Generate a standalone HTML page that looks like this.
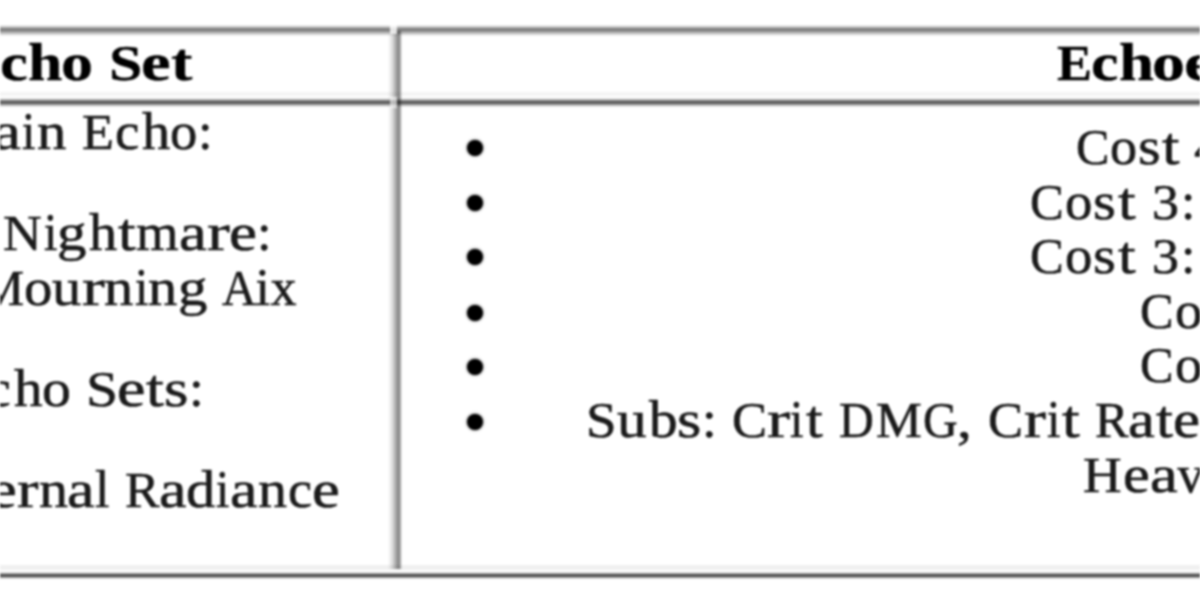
<!DOCTYPE html>
<html><head><meta charset="utf-8"><style>
html,body{margin:0;padding:0;background:#fff}
body{width:1200px;height:600px;overflow:hidden;position:relative}
#w{position:absolute;left:0;top:0;width:1200px;height:600px;overflow:hidden;filter:blur(1.0px)}
.t{position:absolute;white-space:pre;line-height:60px;font-size:52.0px;font-family:"Liberation Serif", serif;color:#1a1a1a;transform-origin:0 47px;-webkit-text-stroke:0.6px #1a1a1a}
.b{font-weight:700;color:#000;-webkit-text-stroke:0.3px #000}
.ln{position:absolute}
.dot{position:absolute;width:16.0px;height:16.0px;border-radius:50%;background:#000;box-shadow:0 0 2.5px 0.5px rgba(0,0,0,.55)}
</style></head><body><div id="w">
<div class="ln" style="left:0px;top:25px;width:1200px;height:11px;background:linear-gradient(to bottom,rgba(0,0,0,0) 0%,rgba(0,0,0,.56) 42%,rgba(0,0,0,0) 100%)"></div>
<div class="ln" style="left:0px;top:92px;width:1200px;height:4px;background:#f4f4f4"></div>
<div class="ln" style="left:0px;top:98px;width:1200px;height:8.5px;background:linear-gradient(to bottom,rgba(0,0,0,0) 0%,rgba(0,0,0,.73) 48%,rgba(0,0,0,0) 100%)"></div>
<div class="ln" style="left:0px;top:564.5px;width:1200px;height:5.5px;background:#f0f0f0"></div>
<div class="ln" style="left:0px;top:571.5px;width:1200px;height:7.5px;background:linear-gradient(to bottom,rgba(0,0,0,0) 0%,rgba(0,0,0,.8) 50%,rgba(0,0,0,0) 100%)"></div>
<div class="ln" style="left:388px;top:31px;width:14px;height:538px;background:linear-gradient(to right,rgba(0,0,0,0) 0%,rgba(0,0,0,.12) 28.6%,rgba(0,0,0,.23) 42.9%,rgba(0,0,0,.4) 64.3%,rgba(0,0,0,.47) 74.3%,rgba(0,0,0,.39) 85.7%,rgba(0,0,0,0) 100%)"></div>
<div class="ln" style="left:390px;top:23px;width:6.5px;height:11px;background:rgba(255,255,255,.8)"></div>
<div class="ln" style="left:390px;top:96.5px;width:6.5px;height:11px;background:rgba(255,255,255,.6)"></div>
<div class="t b" style="left:0.09px;top:32.80px;transform:scaleX(1.2041)">c</div>
<div class="t b" style="left:28.40px;top:32.80px;transform:scaleX(1.1892)">h</div>
<div class="t b" style="left:61.25px;top:32.80px;transform:scaleX(1.2315)">o</div>
<div class="t b" style="left:108.54px;top:32.80px;transform:scale(1.1523,0.97)">S</div>
<div class="t b" style="left:141.04px;top:32.80px;transform:scaleX(1.2840)">e</div>
<div class="t b" style="left:171.01px;top:32.80px;transform:scaleX(1.2346)">t</div>
<div class="t b" style="left:1056.99px;top:32.80px;transform:scale(1.0086,0.97)">E</div>
<div class="t b" style="left:1090.93px;top:32.80px;transform:scaleX(1.1867)">c</div>
<div class="t b" style="left:1118.79px;top:32.80px;transform:scaleX(1.2096)">h</div>
<div class="t b" style="left:1152.17px;top:32.80px;transform:scaleX(1.2669)">o</div>
<div class="t b" style="left:1184.02px;top:32.80px;transform:scaleX(1.3419)">e</div>
<div class="t" style="left:-6.76px;top:102.00px;transform:scaleX(1.2048)">a</div>
<div class="t" style="left:21.83px;top:102.00px;transform:scaleX(0.9268)">i</div>
<div class="t" style="left:36.69px;top:102.00px;transform:scaleX(1.1295)">n</div>
<div class="t" style="left:82.00px;top:102.00px;transform:scale(1.0040,0.975)">E</div>
<div class="t" style="left:115.03px;top:102.00px;transform:scaleX(1.0542)">c</div>
<div class="t" style="left:142.24px;top:102.00px;transform:scaleX(1.0843)">h</div>
<div class="t" style="left:170.26px;top:102.00px;transform:scaleX(1.0496)">o</div>
<div class="t" style="left:198.46px;top:102.00px;transform:scaleX(1.0040)">:</div>
<div class="t" style="left:3.47px;top:202.50px;transform:scale(1.0305,0.975)">N</div>
<div class="t" style="left:43.65px;top:202.50px;transform:scaleX(0.9248)">i</div>
<div class="t" style="left:57.34px;top:202.50px;transform:scaleX(1.1326)">g</div>
<div class="t" style="left:88.66px;top:202.50px;transform:scaleX(1.0821)">h</div>
<div class="t" style="left:117.72px;top:202.50px;transform:scaleX(1.2166)">t</div>
<div class="t" style="left:135.70px;top:202.50px;transform:scaleX(1.0533)">m</div>
<div class="t" style="left:179.43px;top:202.50px;transform:scaleX(1.2023)">a</div>
<div class="t" style="left:206.57px;top:202.50px;transform:scaleX(1.3150)">r</div>
<div class="t" style="left:228.51px;top:202.50px;transform:scaleX(1.2128)">e</div>
<div class="t" style="left:256.98px;top:202.50px;transform:scaleX(1.0019)">:</div>
<div class="t" style="left:-21.48px;top:258.00px;transform:scale(0.9773,0.975)">M</div>
<div class="t" style="left:24.32px;top:258.00px;transform:scaleX(1.0909)">o</div>
<div class="t" style="left:52.38px;top:258.00px;transform:scaleX(1.1250)">u</div>
<div class="t" style="left:82.19px;top:258.00px;transform:scaleX(1.3125)">r</div>
<div class="t" style="left:104.38px;top:258.00px;transform:scaleX(1.1250)">n</div>
<div class="t" style="left:134.58px;top:258.00px;transform:scaleX(0.9231)">i</div>
<div class="t" style="left:148.38px;top:258.00px;transform:scaleX(1.1250)">n</div>
<div class="t" style="left:178.24px;top:258.00px;transform:scaleX(1.1304)">g</div>
<div class="t" style="left:221.50px;top:258.00px;transform:scale(0.9189,0.975)">A</div>
<div class="t" style="left:255.50px;top:258.00px;transform:scaleX(1.0000)">i</div>
<div class="t" style="left:270.50px;top:258.00px;transform:scaleX(1.0000)">x</div>
<div class="t" style="left:-13.97px;top:358.50px;transform:scaleX(1.0694)">c</div>
<div class="t" style="left:13.63px;top:358.50px;transform:scaleX(1.1000)">h</div>
<div class="t" style="left:41.96px;top:358.50px;transform:scaleX(1.1111)">o</div>
<div class="t" style="left:85.68px;top:358.50px;transform:scale(1.1071,0.975)">S</div>
<div class="t" style="left:117.09px;top:358.50px;transform:scaleX(1.2329)">e</div>
<div class="t" style="left:146.04px;top:358.50px;transform:scaleX(1.2368)">t</div>
<div class="t" style="left:163.99px;top:358.50px;transform:scaleX(1.2095)">s</div>
<div class="t" style="left:188.81px;top:358.50px;transform:scaleX(1.0185)">:</div>
<div class="t" style="left:-11.45px;top:459.50px;transform:scaleX(1.2020)">e</div>
<div class="t" style="left:16.53px;top:459.50px;transform:scaleX(1.2412)">r</div>
<div class="t" style="left:38.50px;top:459.50px;transform:scaleX(1.1171)">n</div>
<div class="t" style="left:67.02px;top:459.50px;transform:scaleX(1.1915)">a</div>
<div class="t" style="left:95.22px;top:459.50px;transform:scaleX(0.9930)">l</div>
<div class="t" style="left:125.01px;top:459.50px;transform:scale(0.9930,0.975)">R</div>
<div class="t" style="left:159.36px;top:459.50px;transform:scaleX(1.1915)">a</div>
<div class="t" style="left:186.31px;top:459.50px;transform:scaleX(1.1225)">d</div>
<div class="t" style="left:216.44px;top:459.50px;transform:scaleX(0.9166)">i</div>
<div class="t" style="left:229.86px;top:459.50px;transform:scaleX(1.1915)">a</div>
<div class="t" style="left:257.94px;top:459.50px;transform:scaleX(1.1171)">n</div>
<div class="t" style="left:287.75px;top:459.50px;transform:scaleX(1.0426)">c</div>
<div class="t" style="left:312.26px;top:459.50px;transform:scaleX(1.2020)">e</div>
<div class="t" style="left:1075.57px;top:117.30px;transform:scale(0.9626,0.975)">C</div>
<div class="t" style="left:1110.27px;top:117.30px;transform:scaleX(1.0410)">o</div>
<div class="t" style="left:1137.99px;top:117.30px;transform:scaleX(1.1202)">s</div>
<div class="t" style="left:1162.14px;top:117.30px;transform:scaleX(1.2091)">t</div>
<div class="t" style="left:1193.92px;top:117.30px;transform:scale(1.0787,0.975)">4</div>
<div class="t" style="left:1030.06px;top:171.80px;transform:scale(0.9724,0.975)">C</div>
<div class="t" style="left:1065.10px;top:171.80px;transform:scaleX(1.0516)">o</div>
<div class="t" style="left:1093.11px;top:171.80px;transform:scaleX(1.1316)">s</div>
<div class="t" style="left:1117.50px;top:171.80px;transform:scaleX(1.2214)">t</div>
<div class="t" style="left:1151.67px;top:171.80px;transform:scale(1.0384,0.975)">3</div>
<div class="t" style="left:1180.57px;top:171.80px;transform:scaleX(0.9932)">:</div>
<div class="t" style="left:1030.06px;top:226.40px;transform:scale(0.9724,0.975)">C</div>
<div class="t" style="left:1065.10px;top:226.40px;transform:scaleX(1.0516)">o</div>
<div class="t" style="left:1093.11px;top:226.40px;transform:scaleX(1.1316)">s</div>
<div class="t" style="left:1117.50px;top:226.40px;transform:scaleX(1.2214)">t</div>
<div class="t" style="left:1151.67px;top:226.40px;transform:scale(1.0384,0.975)">3</div>
<div class="t" style="left:1180.57px;top:226.40px;transform:scaleX(0.9932)">:</div>
<div class="t" style="left:1140.47px;top:280.90px;transform:scale(0.9667,0.975)">C</div>
<div class="t" style="left:1175.31px;top:280.90px;transform:scaleX(1.0455)">o</div>
<div class="t" style="left:1140.47px;top:335.40px;transform:scale(0.9667,0.975)">C</div>
<div class="t" style="left:1175.31px;top:335.40px;transform:scaleX(1.0455)">o</div>
<div class="t" style="left:585.83px;top:390.00px;transform:scale(1.0581,0.975)">S</div>
<div class="t" style="left:617.26px;top:390.00px;transform:scaleX(1.1407)">u</div>
<div class="t" style="left:648.83px;top:390.00px;transform:scaleX(1.0985)">b</div>
<div class="t" style="left:676.84px;top:390.00px;transform:scaleX(1.2041)">s</div>
<div class="t" style="left:701.55px;top:390.00px;transform:scaleX(1.0140)">:</div>
<div class="t" style="left:731.98px;top:390.00px;transform:scale(1.0095,0.975)">C</div>
<div class="t" style="left:767.00px;top:390.00px;transform:scaleX(1.3250)">r</div>
<div class="t" style="left:789.60px;top:390.00px;transform:scaleX(0.9319)">i</div>
<div class="t" style="left:805.68px;top:390.00px;transform:scaleX(1.1537)">t</div>
<div class="t" style="left:839.07px;top:390.00px;transform:scale(0.9266,0.975)">D</div>
<div class="t" style="left:875.50px;top:390.00px;transform:scale(0.9905,0.975)">M</div>
<div class="t" style="left:923.29px;top:390.00px;transform:scale(0.9241,0.975)">G</div>
<div class="t" style="left:957.31px;top:390.00px;transform:scaleX(1.1402)">,</div>
<div class="t" style="left:987.98px;top:390.00px;transform:scale(1.0095,0.975)">C</div>
<div class="t" style="left:1024.07px;top:390.00px;transform:scaleX(1.2619)">r</div>
<div class="t" style="left:1046.61px;top:390.00px;transform:scaleX(0.9319)">i</div>
<div class="t" style="left:1061.68px;top:390.00px;transform:scaleX(1.2259)">t</div>
<div class="t" style="left:1095.03px;top:390.00px;transform:scale(0.9667,0.975)">R</div>
<div class="t" style="left:1128.48px;top:390.00px;transform:scaleX(1.1600)">a</div>
<div class="t" style="left:1155.93px;top:390.00px;transform:scaleX(1.1738)">t</div>
<div class="t" style="left:1172.93px;top:390.00px;transform:scaleX(1.1702)">e</div>
<div class="t" style="left:1083.47px;top:444.50px;transform:scale(1.0286,0.975)">H</div>
<div class="t" style="left:1123.18px;top:444.50px;transform:scaleX(1.1579)">e</div>
<div class="t" style="left:1150.10px;top:444.50px;transform:scaleX(1.2000)">a</div>
<div class="t" style="left:1177.50px;top:444.50px;transform:scaleX(1.0000)">v</div>
<div class="dot" style="left:467.4px;top:140.2px"></div>
<div class="dot" style="left:467.4px;top:194.9px"></div>
<div class="dot" style="left:467.4px;top:249.3px"></div>
<div class="dot" style="left:467.4px;top:304.8px"></div>
<div class="dot" style="left:467.4px;top:359.2px"></div>
<div class="dot" style="left:467.4px;top:414.1px"></div>
</div></body></html>
